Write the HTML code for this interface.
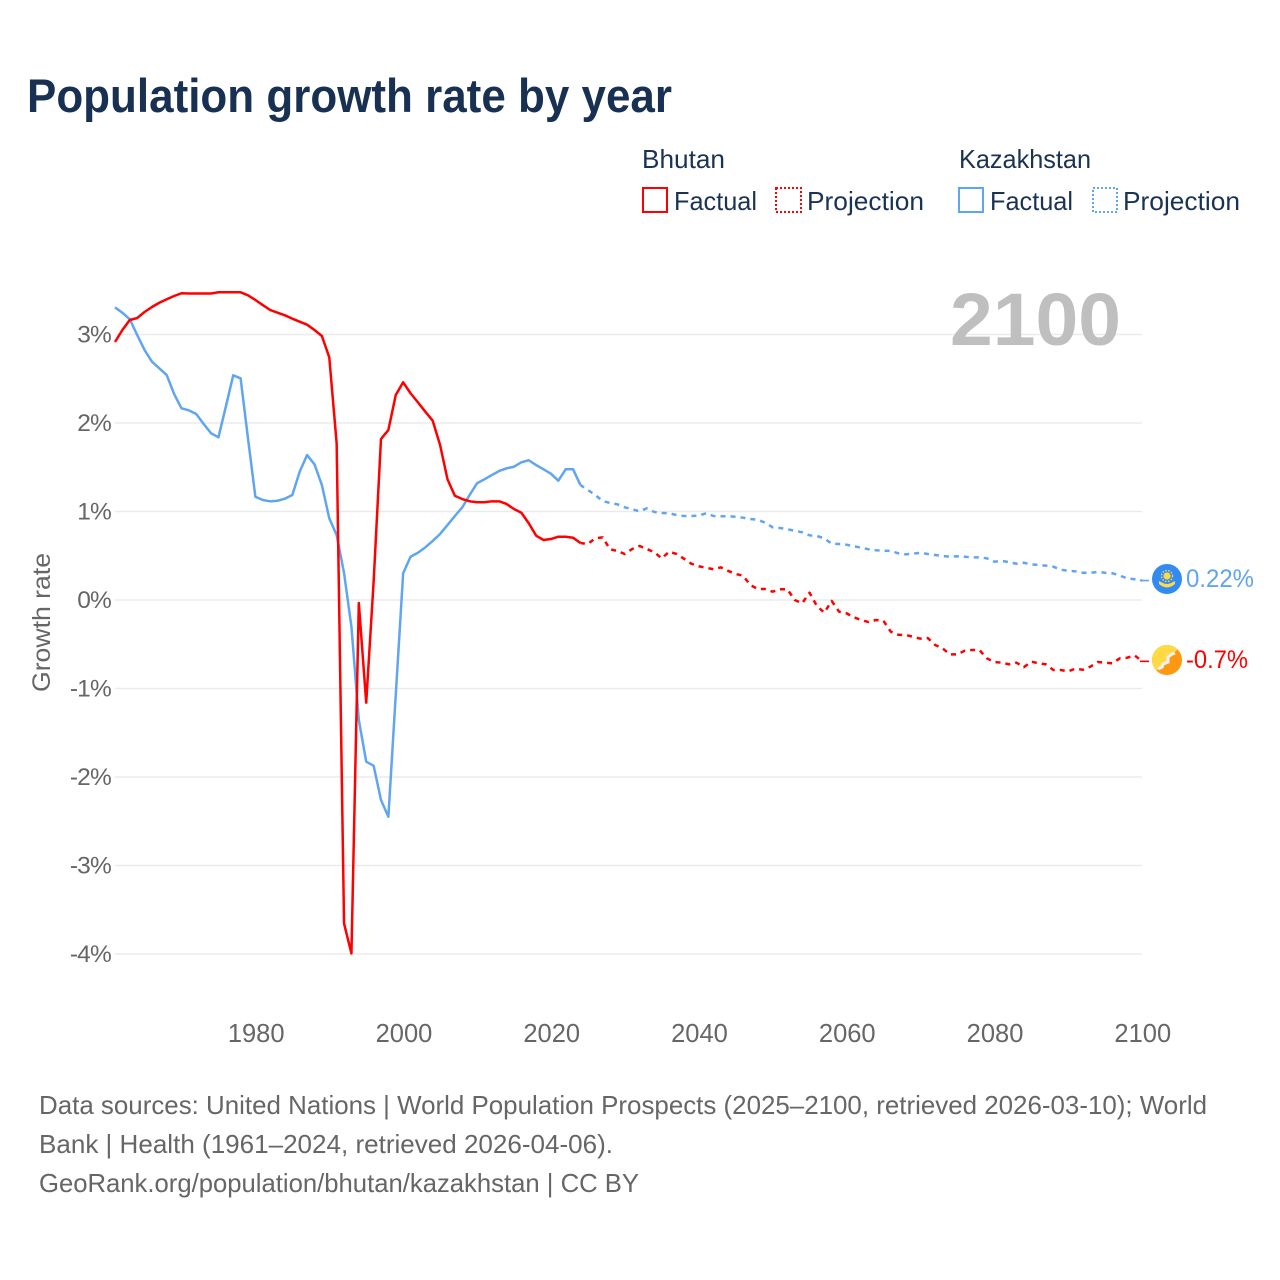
<!DOCTYPE html>
<html lang="en">
<head>
<meta charset="utf-8">
<title>Population growth rate by year</title>
<style>
html,body{margin:0;padding:0;background:#fff;}
svg{display:block;font-family:"Liberation Sans",sans-serif;}
</style>
</head>
<body>
<svg id="chart" width="1280" height="1280" viewBox="0 0 1280 1280" xmlns="http://www.w3.org/2000/svg">
  <rect x="0" y="0" width="1280" height="1280" fill="#ffffff"/>
  <text x="27" y="112" font-size="47" font-weight="bold" fill="#183153" textLength="645" lengthAdjust="spacingAndGlyphs">Population growth rate by year</text>

  <g font-size="26" fill="#1b3353">
    <text x="642" y="168" textLength="83" lengthAdjust="spacingAndGlyphs">Bhutan</text>
    <rect x="643" y="188" width="24" height="24" fill="none" stroke="#ff0000" stroke-width="2"/>
    <text x="674" y="210" textLength="83" lengthAdjust="spacingAndGlyphs">Factual</text>
    <rect x="776" y="188" width="25" height="24" fill="none" stroke="#ff0000" stroke-width="2" stroke-dasharray="2 2"/>
    <text x="807" y="210" textLength="117" lengthAdjust="spacingAndGlyphs">Projection</text>
    <text x="959" y="168" textLength="132" lengthAdjust="spacingAndGlyphs">Kazakhstan</text>
    <rect x="959" y="188" width="24" height="24" fill="none" stroke="#60a5f0" stroke-width="2"/>
    <text x="990" y="210" textLength="83" lengthAdjust="spacingAndGlyphs">Factual</text>
    <rect x="1093" y="188" width="24" height="24" fill="none" stroke="#60a5f0" stroke-width="2" stroke-dasharray="2 2"/>
    <text x="1123" y="210" textLength="117" lengthAdjust="spacingAndGlyphs">Projection</text>
  </g>

  <g id="grid"></g>
  <g id="y-ticks"></g>
  <g id="x-ticks"></g>

  <text x="950" y="345" font-size="74" font-weight="bold" fill="#bfbfbf" textLength="171" lengthAdjust="spacingAndGlyphs">2100</text>
  <text transform="translate(50,692) rotate(-90)" font-size="25" fill="#666666" textLength="139" lengthAdjust="spacingAndGlyphs">Growth rate</text>

  <g id="series"></g>

  <g>
    <circle cx="1167" cy="579" r="15" fill="#338af3"/>
    <circle cx="1167" cy="576" r="5.5" fill="none" stroke="#ffda44" stroke-width="1.4" stroke-dasharray="1.5 1.5"/>
    <circle cx="1167" cy="576" r="3.6" fill="#ffda44"/>
    <path d="M1159 581 L1163 583 Q1167 585 1171 583 L1175 581 L1175 584 Q1167 591 1159 584 Z" fill="#ffda44"/>
    <text x="1186" y="587" font-size="25" fill="#60a5f0" textLength="68" lengthAdjust="spacingAndGlyphs">0.22%</text>
  </g>
  <g>
    <defs>
      <clipPath id="bt-clip"><circle cx="1167" cy="660" r="15"/></clipPath>
    </defs>
    <circle cx="1167" cy="660" r="15" fill="#ff9811"/>
    <path d="M1152 675 L1182 645 L1152 645 Z" fill="#ffda44" clip-path="url(#bt-clip)"/>
    <polyline points="1158,669 1162,667 1163,664 1168,662 1168,657 1172,654 1175,653" fill="none" stroke="#f0f0f0" stroke-width="3.2"/>
    <text x="1186" y="668" font-size="25" fill="#ff0000" textLength="62" lengthAdjust="spacingAndGlyphs">-0.7%</text>
  </g>

  <g font-size="26" fill="#666666">
    <text x="39" y="1114" textLength="1168" lengthAdjust="spacingAndGlyphs">Data sources: United Nations | World Population Prospects (2025–2100, retrieved 2026-03-10); World</text>
    <text x="39" y="1153" textLength="574" lengthAdjust="spacingAndGlyphs">Bank | Health (1961–2024, retrieved 2026-04-06).</text>
    <text x="39" y="1192" textLength="600" lengthAdjust="spacingAndGlyphs">GeoRank.org/population/bhutan/kazakhstan | CC BY</text>
  </g>
</svg>

<script>
const xTickYears = [1980, 2000, 2020, 2040, 2060, 2080, 2100];
const yTickValues = [3, 2, 1, 0, -1, -2, -3, -4];
const yTickLabels = ["3%", "2%", "1%", "0%", "-1%", "-2%", "-3%", "-4%"];

const factualStartYear = 1961;
const projectionStartYear = 2024;

const bhutanFactual = [
  2.915, 3.051, 3.164, 3.186, 3.254, 3.311, 3.359, 3.398, 3.435, 3.466,
  3.463, 3.463, 3.463, 3.463, 3.477, 3.477, 3.477, 3.477, 3.443, 3.39,
  3.333, 3.277, 3.246, 3.217, 3.179, 3.145, 3.111, 3.051, 2.983, 2.742,
  1.771, -3.655, -3.994, -0.034, -1.16, 0.2, 1.819, 1.921, 2.316, 2.46,
  2.336, 2.234, 2.128, 2.026, 1.751, 1.364, 1.178, 1.141, 1.115, 1.104,
  1.104, 1.115, 1.115, 1.085, 1.028, 0.986, 0.867, 0.727, 0.678, 0.689,
  0.715, 0.715, 0.704, 0.644
];
const bhutanProjection = [
  0.644, 0.633, 0.697, 0.708, 0.573, 0.554, 0.52, 0.576, 0.61, 0.576, 0.539,
  0.471, 0.546, 0.52, 0.467, 0.41, 0.381, 0.365, 0.347, 0.369, 0.328,
  0.294, 0.275, 0.169, 0.124, 0.124, 0.094, 0.121, 0.121, 0, -0.037,
  0.082, -0.068, -0.143, -0.011, -0.132, -0.15, -0.195, -0.226, -0.249, -0.226,
  -0.234, -0.358, -0.392, -0.395, -0.415, -0.437, -0.429, -0.508, -0.546, -0.614,
  -0.614, -0.573, -0.565, -0.565, -0.659, -0.701, -0.708, -0.727, -0.708, -0.76,
  -0.697, -0.715, -0.727, -0.791, -0.791, -0.806, -0.776, -0.788, -0.754, -0.701,
  -0.708, -0.715, -0.659, -0.652, -0.625, -0.693
];
const kazakhstanFactual = [
  3.307, 3.246, 3.172, 2.994, 2.825, 2.693, 2.618, 2.542, 2.328, 2.166,
  2.143, 2.102, 1.989, 1.884, 1.838, 2.184, 2.539, 2.505, 1.827, 1.167,
  1.13, 1.115, 1.122, 1.145, 1.186, 1.45, 1.638, 1.533, 1.299, 0.923,
  0.734, 0.305, -0.302, -1.356, -1.827, -1.872, -2.26, -2.449, -1.073, 0.302,
  0.489, 0.534, 0.595, 0.667, 0.746, 0.847, 0.949, 1.047, 1.186, 1.319,
  1.364, 1.412, 1.458, 1.488, 1.506, 1.556, 1.579, 1.525, 1.477, 1.427,
  1.348, 1.477, 1.477, 1.299
];
const kazakhstanProjection = [
  1.299, 1.243, 1.186, 1.119, 1.096, 1.081, 1.047, 1.025, 1.002, 1.036, 0.994,
  0.983, 0.98, 0.96, 0.949, 0.949, 0.953, 0.98, 0.949, 0.946, 0.946,
  0.941, 0.93, 0.915, 0.907, 0.873, 0.821, 0.814, 0.799, 0.783, 0.765,
  0.731, 0.723, 0.697, 0.636, 0.633, 0.625, 0.607, 0.591, 0.573, 0.562,
  0.557, 0.554, 0.528, 0.516, 0.523, 0.534, 0.52, 0.508, 0.497, 0.489,
  0.494, 0.489, 0.482, 0.482, 0.471, 0.433, 0.441, 0.429, 0.41, 0.421,
  0.403, 0.395, 0.388, 0.376, 0.342, 0.331, 0.324, 0.308, 0.308, 0.316,
  0.308, 0.302, 0.275, 0.245, 0.234, 0.22
];

const SVG_NS = "http://www.w3.org/2000/svg";
const RED = "#ff0000";
const BLUE = "#60a5f0";
const MARKER_LEAD_X = 1149;

function xScale(year) {
  return 115 + (year - 1961) * (1142 - 115) / (2100 - 1961);
}
function yScale(value) {
  return 600.0 - value * 88.5;
}
function pathFrom(startYear, values) {
  return values.map(function (v, i) {
    return (i ? "L" : "M") + xScale(startYear + i).toFixed(2) + " " + yScale(v).toFixed(2);
  }).join(" ");
}

const gridGroup = document.getElementById("grid");
const yTickGroup = document.getElementById("y-ticks");
const xTickGroup = document.getElementById("x-ticks");
const seriesGroup = document.getElementById("series");

yTickValues.forEach(function (value, i) {
  const line = document.createElementNS(SVG_NS, "line");
  
  
  line.setAttribute("x1", xScale(1961));
  line.setAttribute("x2", xScale(2100));
  line.setAttribute("y1", yScale(value));
  line.setAttribute("y2", yScale(value));
  line.setAttribute("stroke", "#ebebeb");
  line.setAttribute("stroke-width", "1.6");
  gridGroup.appendChild(line);

  const label = document.createElementNS(SVG_NS, "text");
  
  
  label.setAttribute("x", "111");
  label.setAttribute("y", yScale(value) + 8);
  label.setAttribute("text-anchor", "end");
  label.setAttribute("font-size", "24.5");
  label.setAttribute("letter-spacing", "-0.8");
  label.setAttribute("fill", "#666666");
  label.textContent = yTickLabels[i];
  yTickGroup.appendChild(label);
});

xTickYears.forEach(function (year) {
  const label = document.createElementNS(SVG_NS, "text");
  
  
  label.setAttribute("x", xScale(year) + 0.8);
  label.setAttribute("y", "1042");
  label.setAttribute("text-anchor", "middle");
  label.setAttribute("font-size", "25.5");
  label.setAttribute("fill", "#666666");
  label.textContent = String(year);
  xTickGroup.appendChild(label);
});

function addLine(name, startYear, values, color, dashed) {
  const p = document.createElementNS(SVG_NS, "path");
  
  
  p.setAttribute("d", pathFrom(startYear, values));
  p.setAttribute("fill", "none");
  p.setAttribute("stroke", color);
  p.setAttribute("stroke-width", "2.5");
  p.setAttribute("stroke-linejoin", "round");
  if (dashed) {
    p.setAttribute("stroke-dasharray", "5 5");
    p.setAttribute("stroke-dashoffset", "0.6");
  }
  seriesGroup.appendChild(p);
}

function addMarkerLead(name, lastValue, color) {
  const lead = document.createElementNS(SVG_NS, "line");
  
  
  lead.setAttribute("x1", xScale(2100) - 2);
  lead.setAttribute("x2", MARKER_LEAD_X);
  lead.setAttribute("y1", yScale(lastValue));
  lead.setAttribute("y2", yScale(lastValue));
  lead.setAttribute("stroke", color);
  lead.setAttribute("stroke-width", "1.6");
  seriesGroup.appendChild(lead);
}

addLine("kazakhstan-factual-line", factualStartYear, kazakhstanFactual, BLUE, false);
addLine("kazakhstan-projection-line", projectionStartYear, kazakhstanProjection, BLUE, true);
addLine("bhutan-factual-line", factualStartYear, bhutanFactual, RED, false);
addLine("bhutan-projection-line", projectionStartYear, bhutanProjection, RED, true);
addMarkerLead("kazakhstan-marker-lead", kazakhstanProjection[kazakhstanProjection.length - 1], BLUE);
addMarkerLead("bhutan-marker-lead", bhutanProjection[bhutanProjection.length - 1], RED);
</script>
</body>
</html>
